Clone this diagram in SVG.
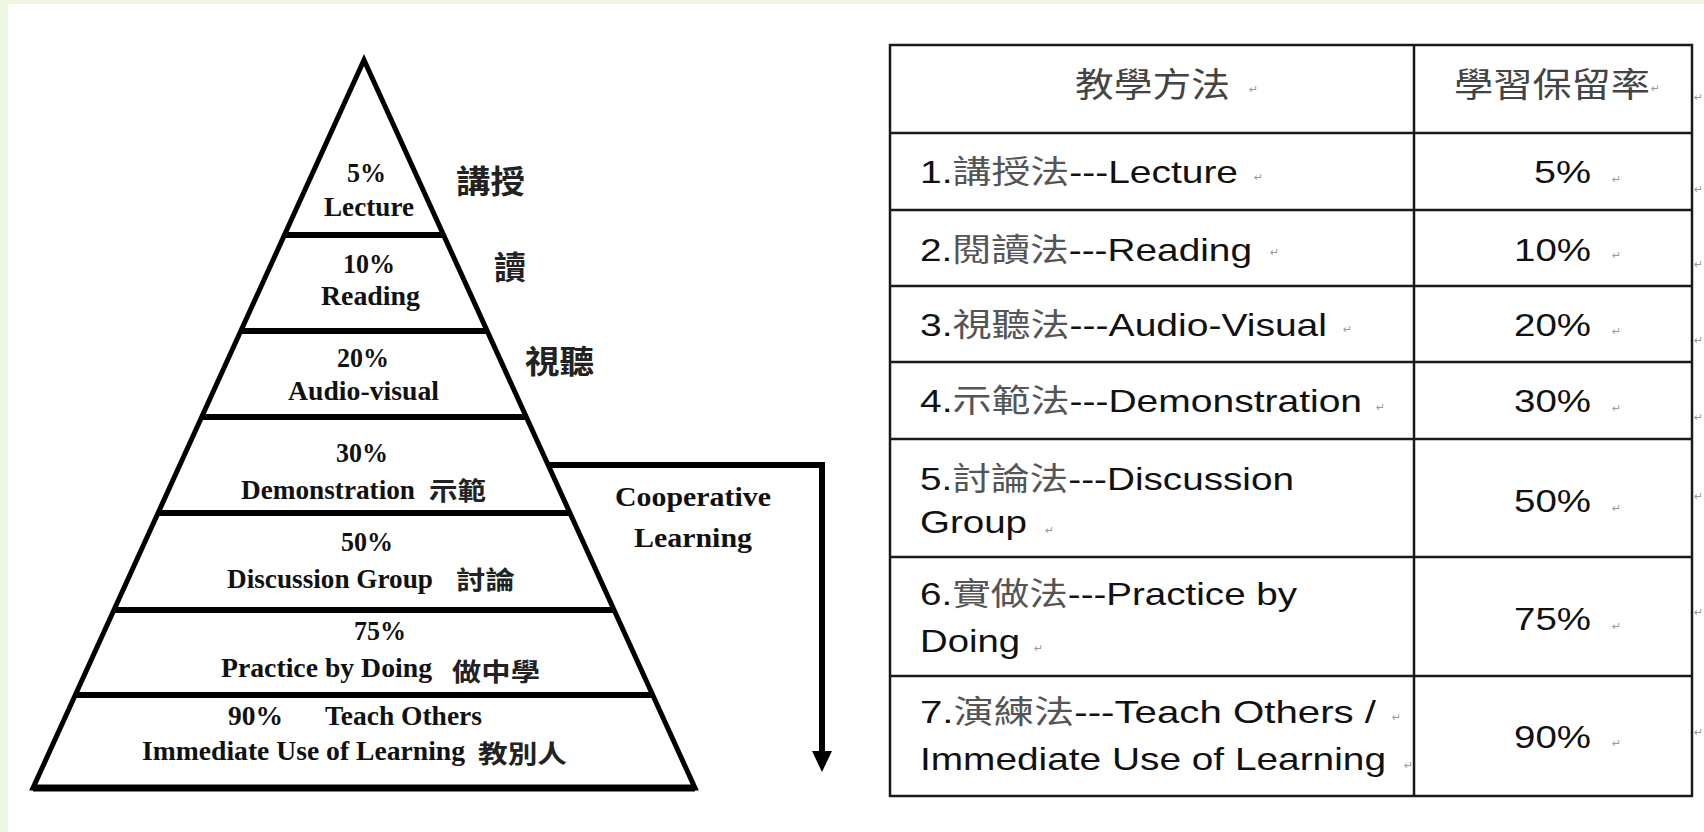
<svg xmlns="http://www.w3.org/2000/svg" width="1704" height="832" viewBox="0 0 1704 832">
<style>
.pt{font-family:"Liberation Serif","Noto Sans CJK TC",serif;font-weight:bold;font-size:27px;fill:#111}
.pc{font-family:"Noto Sans CJK TC",sans-serif;font-weight:bold;fill:#222}
.tt{font-family:"Liberation Sans","Noto Sans CJK TC",sans-serif;font-size:32px;fill:#111}
.cj{fill:#555}
.hd{font-family:"Noto Sans CJK TC",sans-serif;font-size:34px;fill:#444}
.rm{font-family:"DejaVu Sans",sans-serif;font-size:11px;fill:#999}
.edge{fill:none;stroke:#000;stroke-width:5;stroke-linejoin:miter}
.div{stroke:#000;stroke-width:6}
.grid{fill:none;stroke:#1a1a1a;stroke-width:2.5}
.conn{fill:none;stroke:#000;stroke-width:6;stroke-linejoin:miter}
</style>
<defs>
<marker id="arrow" markerUnits="userSpaceOnUse" viewBox="0 0 21 20" markerWidth="21" markerHeight="20" refX="0" refY="10" orient="auto">
<path d="M0,0 L21,10 L0,20 z" fill="#000"/>
</marker>
</defs>
<rect x="0" y="0" width="1704" height="832" fill="#fff"/>
<rect x="0" y="0" width="1704" height="4" fill="#eef7e1"/>
<rect x="0" y="0" width="8" height="832" fill="#eef7e1"/>

<g id="pyramid-frame">
<polygon class="edge" points="364,60 695,788 33,788"/>
<line class="div" x1="284" y1="235" x2="444" y2="235"/>
<line class="div" x1="241" y1="331" x2="487" y2="331"/>
<line class="div" x1="202" y1="417" x2="526" y2="417"/>
<line class="div" x1="158" y1="513" x2="570" y2="513"/>
<line class="div" x1="114" y1="610" x2="614" y2="610"/>
<line class="div" x1="75" y1="695" x2="653" y2="695"/>
<line x1="33" y1="788" x2="695" y2="788" stroke="#000" stroke-width="7"/>
</g>

<g id="level-lecture">
<text class="pt" x="347" y="182" font-size="25" textLength="39" lengthAdjust="spacingAndGlyphs">5%</text>
<text class="pt" x="324" y="216" textLength="90" lengthAdjust="spacingAndGlyphs">Lecture</text>
<text class="pc" x="456" y="193" font-size="32" textLength="69" lengthAdjust="spacingAndGlyphs">講授</text>
</g>
<g id="level-reading">
<text class="pt" x="343" y="273" font-size="26" textLength="52" lengthAdjust="spacingAndGlyphs">10%</text>
<text class="pt" x="321" y="305" textLength="99" lengthAdjust="spacingAndGlyphs">Reading</text>
<text class="pc" x="494" y="279" font-size="32">讀</text>
</g>
<g id="level-audiovisual">
<text class="pt" x="337" y="367" font-size="26" textLength="52" lengthAdjust="spacingAndGlyphs">20%</text>
<text class="pt" x="288" y="400" textLength="151" lengthAdjust="spacingAndGlyphs">Audio-visual</text>
<text class="pc" x="525" y="373" font-size="32" textLength="69" lengthAdjust="spacingAndGlyphs">視聽</text>
</g>
<g id="level-demonstration">
<text class="pt" x="336" y="462" font-size="26" textLength="52" lengthAdjust="spacingAndGlyphs">30%</text>
<text class="pt" x="241" y="499" textLength="174" lengthAdjust="spacingAndGlyphs">Demonstration</text>
<text class="pc" x="429" y="500" font-size="25" textLength="57" lengthAdjust="spacingAndGlyphs">示範</text>
</g>
<g id="level-discussion">
<text class="pt" x="341" y="551" font-size="26" textLength="52" lengthAdjust="spacingAndGlyphs">50%</text>
<text class="pt" x="227" y="588" textLength="206" lengthAdjust="spacingAndGlyphs">Discussion Group</text>
<text class="pc" x="456" y="589" font-size="25" textLength="59" lengthAdjust="spacingAndGlyphs">討論</text>
</g>
<g id="level-practice">
<text class="pt" x="354" y="640" font-size="26" textLength="52" lengthAdjust="spacingAndGlyphs">75%</text>
<text class="pt" x="221" y="677" textLength="211" lengthAdjust="spacingAndGlyphs">Practice by Doing</text>
<text class="pc" x="452" y="681" font-size="25" textLength="88" lengthAdjust="spacingAndGlyphs">做中學</text>
</g>
<g id="level-teach">
<text class="pt" x="228" y="725" font-size="26" textLength="55" lengthAdjust="spacingAndGlyphs">90%</text>
<text class="pt" x="325" y="725" textLength="157" lengthAdjust="spacingAndGlyphs">Teach Others</text>
<text class="pt" x="142" y="760" textLength="323" lengthAdjust="spacingAndGlyphs">Immediate Use of Learning</text>
<text class="pc" x="478" y="763" font-size="25" textLength="89" lengthAdjust="spacingAndGlyphs">教別人</text>
</g>

<g id="connectors">
<path class="conn" d="M548,465 H822 V751" marker-end="url(#arrow)"/>
</g>
<g id="cooperative-label">
<text class="pt" x="615" y="506" textLength="156" lengthAdjust="spacingAndGlyphs">Cooperative</text>
<text class="pt" x="634" y="547" textLength="118" lengthAdjust="spacingAndGlyphs">Learning</text>
</g>

<g id="table">
<rect class="grid" x="890" y="45" width="802" height="751"/>
<line class="grid" x1="1414" y1="45" x2="1414" y2="796"/>
<line class="grid" x1="890" y1="133" x2="1692" y2="133"/>
<line class="grid" x1="890" y1="210" x2="1692" y2="210"/>
<line class="grid" x1="890" y1="286" x2="1692" y2="286"/>
<line class="grid" x1="890" y1="362" x2="1692" y2="362"/>
<line class="grid" x1="890" y1="439" x2="1692" y2="439"/>
<line class="grid" x1="890" y1="557" x2="1692" y2="557"/>
<line class="grid" x1="890" y1="676" x2="1692" y2="676"/>
</g>

<g id="row-header">
<text class="hd" x="1075" y="97" textLength="155" lengthAdjust="spacingAndGlyphs">教學方法</text>
<text class="hd" x="1454" y="97" textLength="196" lengthAdjust="spacingAndGlyphs">學習保留率</text>
<text class="rm" x="1249" y="93">↵</text>
<text class="rm" x="1651" y="92">↵</text>
<text class="rm" x="1694" y="101">↵</text>
</g>
<g id="row-1">
<text class="tt" x="920" y="183" textLength="318" lengthAdjust="spacingAndGlyphs">1.<tspan class="cj">講授法</tspan>---Lecture</text>
<text class="tt" x="1534" y="183" textLength="57" lengthAdjust="spacingAndGlyphs">5%</text>
<text class="rm" x="1254" y="181">↵</text>
<text class="rm" x="1612" y="183">↵</text>
<text class="rm" x="1694" y="193">↵</text>
</g>
<g id="row-2">
<text class="tt" x="920" y="261" textLength="332" lengthAdjust="spacingAndGlyphs">2.<tspan class="cj">閱讀法</tspan>---Reading</text>
<text class="tt" x="1514" y="261" textLength="77" lengthAdjust="spacingAndGlyphs">10%</text>
<text class="rm" x="1270" y="256">↵</text>
<text class="rm" x="1612" y="259">↵</text>
<text class="rm" x="1694" y="268">↵</text>
</g>
<g id="row-3">
<text class="tt" x="920" y="336" textLength="407" lengthAdjust="spacingAndGlyphs">3.<tspan class="cj">視聽法</tspan>---Audio-Visual</text>
<text class="tt" x="1514" y="336" textLength="77" lengthAdjust="spacingAndGlyphs">20%</text>
<text class="rm" x="1343" y="333">↵</text>
<text class="rm" x="1612" y="335">↵</text>
<text class="rm" x="1694" y="344">↵</text>
</g>
<g id="row-4">
<text class="tt" x="920" y="412" textLength="442" lengthAdjust="spacingAndGlyphs">4.<tspan class="cj">示範法</tspan>---Demonstration</text>
<text class="tt" x="1514" y="412" textLength="77" lengthAdjust="spacingAndGlyphs">30%</text>
<text class="rm" x="1376" y="411">↵</text>
<text class="rm" x="1612" y="412">↵</text>
<text class="rm" x="1694" y="421">↵</text>
</g>
<g id="row-5">
<text class="tt" x="920" y="490" textLength="374" lengthAdjust="spacingAndGlyphs">5.<tspan class="cj">討論法</tspan>---Discussion</text>
<text class="tt" x="920" y="533" textLength="107" lengthAdjust="spacingAndGlyphs">Group</text>
<text class="tt" x="1514" y="512" textLength="77" lengthAdjust="spacingAndGlyphs">50%</text>
<text class="rm" x="1045" y="534">↵</text>
<text class="rm" x="1612" y="512">↵</text>
<text class="rm" x="1694" y="500">↵</text>
</g>
<g id="row-6">
<text class="tt" x="920" y="605" textLength="377" lengthAdjust="spacingAndGlyphs">6.<tspan class="cj">實做法</tspan>---Practice by</text>
<text class="tt" x="920" y="652" textLength="100" lengthAdjust="spacingAndGlyphs">Doing</text>
<text class="tt" x="1514" y="630" textLength="77" lengthAdjust="spacingAndGlyphs">75%</text>
<text class="rm" x="1034" y="652">↵</text>
<text class="rm" x="1612" y="630">↵</text>
<text class="rm" x="1694" y="616">↵</text>
</g>
<g id="row-7">
<text class="tt" x="920" y="723" textLength="456" lengthAdjust="spacingAndGlyphs">7.<tspan class="cj">演練法</tspan>---Teach Others /</text>
<text class="tt" x="920" y="770" textLength="466" lengthAdjust="spacingAndGlyphs">Immediate Use of Learning</text>
<text class="tt" x="1514" y="748" textLength="77" lengthAdjust="spacingAndGlyphs">90%</text>
<text class="rm" x="1392" y="721">↵</text>
<text class="rm" x="1404" y="769">↵</text>
<text class="rm" x="1612" y="747">↵</text>
<text class="rm" x="1694" y="736">↵</text>
</g>
</svg>
